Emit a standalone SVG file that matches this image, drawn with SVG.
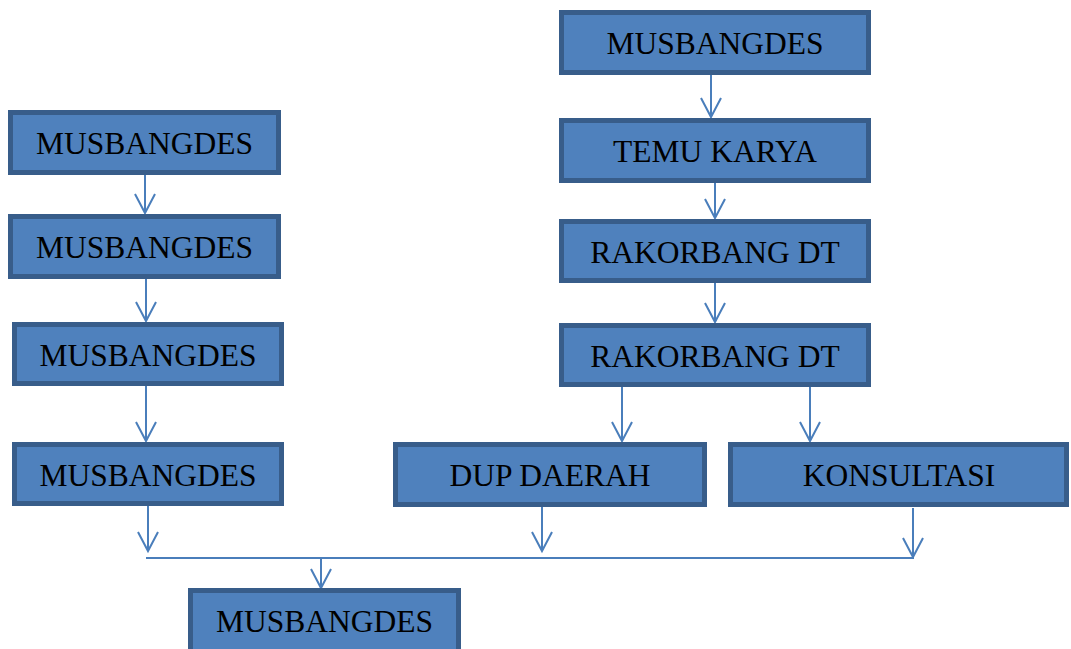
<svg xmlns="http://www.w3.org/2000/svg" width="1071" height="649" viewBox="0 0 1071 649">
<defs>
<style>
.box{fill:#4F81BD;stroke:#385D8A;stroke-width:5}
.lbl{font-family:"Liberation Serif","Times New Roman",serif;font-size:31.5px;fill:#000;text-anchor:middle}
.con{stroke:#4A7EBB;stroke-width:2;fill:none}
.head{fill:none;stroke:#4A7EBB;stroke-width:2}
</style>
</defs>
<rect width="1071" height="649" fill="#fff"/>
<g id="connectors">
<path class="con" d="M145,175 V213"/>
<path class="con" d="M146,279 V321"/>
<path class="con" d="M146,386 V441"/>
<path class="con" d="M148,506 V551"/>
<path class="con" d="M146,558 H914"/>
<path class="con" d="M321,558 V588"/>
<path class="con" d="M711,75 V117"/>
<path class="con" d="M715,183 V218"/>
<path class="con" d="M715,283 V322"/>
<path class="con" d="M622,387 V441"/>
<path class="con" d="M810,387 V441"/>
<path class="con" d="M542,507 V551"/>
<path class="con" d="M913,508 V557"/>
<path class="head" d="M135,194 L145,213 L155,194"/>
<path class="head" d="M136,302 L146,321 L156,302"/>
<path class="head" d="M136,422 L146,441 L156,422"/>
<path class="head" d="M138,532 L148,551 L158,532"/>
<path class="head" d="M311,569 L321,588 L331,569"/>
<path class="head" d="M701,98 L711,117 L721,98"/>
<path class="head" d="M705,199 L715,218 L725,199"/>
<path class="head" d="M705,303 L715,322 L725,303"/>
<path class="head" d="M612,422 L622,441 L632,422"/>
<path class="head" d="M800,422 L810,441 L820,422"/>
<path class="head" d="M532,532 L542,551 L552,532"/>
<path class="head" d="M903,538 L913,557 L923,538"/>
</g>
<g id="n1"><rect class="box" x="10.5" y="112.5" width="268" height="60"/><text class="lbl" x="144.5" y="154">MUSBANGDES</text></g>
<g id="n2"><rect class="box" x="10.5" y="216.5" width="268" height="60"/><text class="lbl" x="144.5" y="258">MUSBANGDES</text></g>
<g id="n3"><rect class="box" x="14.5" y="324.5" width="267" height="59"/><text class="lbl" x="148" y="366">MUSBANGDES</text></g>
<g id="n4"><rect class="box" x="14.5" y="444.5" width="267" height="59"/><text class="lbl" x="148" y="486">MUSBANGDES</text></g>
<g id="n5"><rect class="box" x="561.5" y="12.5" width="307" height="60"/><text class="lbl" x="715" y="54">MUSBANGDES</text></g>
<g id="n6"><rect class="box" x="561.5" y="120.5" width="307" height="60"/><text class="lbl" x="715" y="162">TEMU KARYA</text></g>
<g id="n7"><rect class="box" x="561.5" y="221.5" width="307" height="59"/><text class="lbl" x="715" y="263">RAKORBANG DT</text></g>
<g id="n8"><rect class="box" x="561.5" y="325.5" width="307" height="59"/><text class="lbl" x="715" y="367">RAKORBANG DT</text></g>
<g id="n9"><rect class="box" x="395.5" y="444.5" width="309" height="60"/><text class="lbl" x="550" y="486">DUP DAERAH</text></g>
<g id="n10"><rect class="box" x="730.5" y="444.5" width="336" height="60"/><text class="lbl" x="899" y="486">KONSULTASI</text></g>
<g id="n11"><rect class="box" x="190.5" y="590.5" width="268" height="62"/><text class="lbl" x="324.5" y="632">MUSBANGDES</text></g>
</svg>
